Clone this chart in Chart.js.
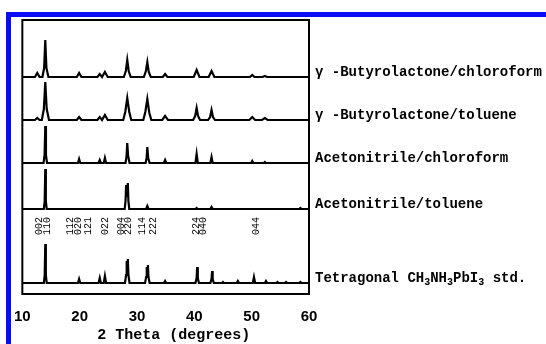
<!DOCTYPE html>
<html>
<head>
<meta charset="utf-8">
<script src="https://cdn.jsdelivr.net/npm/chart.js@4.4.1/dist/chart.umd.min.js"></script>
<style>
  body { margin: 0; background: #fff; }
  #wrap { position: relative; width: 546px; height: 344px; }
  #edge { position: absolute; left: 6px; top: 12px; right: 0; bottom: 0;
          border-top: 5px solid #0a0af5; border-left: 5px solid #0a0af5; }
</style>
</head>
<body>
<div id="wrap">
  <div id="edge"></div>
  <canvas id="xrd"></canvas>
</div>
<script>
// XRD patterns, [2theta (deg), intensity (a.u.)], stacked top to bottom
const gblChloroform = [
  [10, 0], [12.2, 0], [12.6, 4], [13.0, 0], [13.5, 0], [13.8, 9], [14.0, 37], [14.2, 9], [14.55, 0],
  [19.5, 0], [19.9, 4], [20.3, 0], [23.1, 0], [23.5, 3], [23.9, 0], [24.0, 0], [24.4, 5], [24.9, 0],
  [27.7, 0], [28.05, 6], [28.3, 17], [28.55, 6], [28.9, 0], [31.2, 0], [31.55, 6], [31.8, 15], [32.05, 5], [32.4, 0],
  [34.5, 0], [34.9, 3], [35.3, 0], [39.9, 0], [40.4, 7], [40.9, 0], [42.5, 0], [43.0, 6], [43.5, 0],
  [49.7, 0], [50.1, 2], [50.5, 0], [51.9, 0], [52.3, 1], [52.7, 0], [60, 0]
];
const gblToluene = [
  [10, 0], [12.2, 0], [12.6, 2], [13.0, 0], [13.4, 0], [13.75, 11], [14.0, 38], [14.25, 11], [14.65, 0],
  [19.5, 0], [19.9, 3], [20.3, 0], [23.1, 0], [23.5, 3], [23.9, 0], [24.0, 0], [24.4, 5], [24.9, 0],
  [27.6, 0], [27.95, 8], [28.3, 22], [28.65, 8], [29.0, 0], [31.1, 0], [31.45, 8], [31.8, 21], [32.15, 7], [32.5, 0],
  [34.4, 0], [34.9, 4], [35.4, 0], [39.8, 0], [40.15, 4], [40.4, 12], [40.65, 4], [41.0, 0],
  [42.4, 0], [42.75, 3], [43.0, 10], [43.25, 3], [43.6, 0],
  [49.6, 0], [50.1, 3], [50.6, 0], [51.8, 0], [52.3, 2], [52.8, 0], [60, 0]
];
const acnChloroform = [
  [10, 0], [13.7, 0], [13.88, 8], [14.0, 37], [14.12, 8], [14.3, 0],
  [19.7, 0], [19.9, 4], [20.1, 0], [23.3, 0], [23.5, 3], [23.7, 0], [24.2, 0], [24.4, 5], [24.6, 0],
  [28.0, 0], [28.18, 7], [28.3, 20], [28.45, 7], [28.7, 0], [31.5, 0], [31.68, 5], [31.8, 16], [31.95, 5], [32.2, 0],
  [34.7, 0], [34.9, 3], [35.1, 0], [40.2, 0], [40.4, 9], [40.6, 0], [42.8, 0], [43.0, 6], [43.2, 0],
  [49.9, 0], [50.1, 2], [50.3, 0], [52.1, 0], [52.3, 1], [52.5, 0], [60, 0]
];
const acnToluene = [
  [10, 0], [13.75, 0], [13.9, 8], [14.0, 40], [14.1, 8], [14.25, 0],
  [27.85, 0], [28.0, 8], [28.1, 24], [28.25, 12], [28.4, 26], [28.5, 8], [28.65, 0],
  [31.6, 0], [31.8, 3], [32.0, 0], [40.2, 0], [40.4, 1], [40.6, 0], [42.8, 0], [43.0, 2], [43.2, 0],
  [58.3, 0], [58.5, 1], [58.7, 0], [60, 0]
];
const tetragonalStd = [
  [10, 0], [13.75, 0], [13.9, 8], [14.0, 39], [14.1, 8], [14.25, 0],
  [19.7, 0], [19.9, 4], [20.1, 0], [23.3, 0], [23.5, 5], [23.7, 0], [24.2, 0], [24.4, 7], [24.6, 0],
  [27.9, 0], [28.1, 8], [28.2, 22], [28.3, 14], [28.4, 24], [28.5, 8], [28.7, 0],
  [31.4, 0], [31.6, 6], [31.7, 16], [31.8, 10], [31.9, 18], [32.0, 6], [32.2, 0],
  [34.7, 0], [34.9, 2], [35.1, 0], [40.2, 0], [40.4, 5], [40.5, 16], [40.6, 5], [40.8, 0],
  [42.8, 0], [43.0, 4], [43.1, 12], [43.2, 4], [43.4, 0],
  [44.8, 0], [45.0, 1], [45.2, 0], [47.4, 0], [47.6, 2], [47.8, 0], [50.2, 0], [50.4, 6], [50.6, 0],
  [52.3, 0], [52.5, 2], [52.7, 0], [54.3, 0], [54.5, 1], [54.7, 0], [55.8, 0], [56.0, 1], [56.2, 0],
  [58.3, 0], [58.5, 1], [58.7, 0], [60, 0]
];

const patterns = [gblChloroform, gblToluene, acnChloroform, acnToluene, tetragonalStd];
const offsets = [217, 174, 131, 85, 11];
const sampleNames = [
  'γ -Butyrolactone/chloroform',
  'γ -Butyrolactone/toluene',
  'Acetonitrile/chloroform',
  'Acetonitrile/toluene',
  'Tetragonal CH3NH3PbI3 std.'
];
const xTitle = '2 Theta (degrees)';

// reflections of the tetragonal reference, label and 2theta position
const hklLabels = ['002', '110', '112', '020', '121', '022', '004', '220', '114', '222', '224', '040', '044'];
const hklTheta = [12.95, 14.3, 18.3, 19.7, 21.5, 24.4, 27.3, 28.5, 31.0, 32.9, 40.3, 41.6, 50.8];

const datasets = patterns.map((pts, k) => ({
  label: sampleNames[k],
  data: pts.map(([t, i]) => ({ x: t, y: i + offsets[k] })),
  borderColor: '#000',
  borderWidth: 2.2,
  pointRadius: 0,
  tension: 0
}));

// frame, hkl marks, sample names and axis title
const decorations = {
  id: 'decorations',
  afterDatasetsDraw(chart) {
    const { ctx, chartArea: a, scales: { x, y } } = chart;
    ctx.save();
    ctx.strokeStyle = '#000';
    ctx.lineWidth = 2;
    ctx.strokeRect(a.left, a.top, a.right - a.left, a.bottom - a.top);

    ctx.fillStyle = '#000';
    ctx.font = '10px "Liberation Mono", monospace';
    ctx.textAlign = 'center';
    ctx.textBaseline = 'middle';
    hklLabels.forEach((lab, i) => {
      ctx.save();
      ctx.translate(x.getPixelForValue(hklTheta[i]), 226);
      ctx.rotate(-Math.PI / 2);
      ctx.fillText(lab, 0, 0);
      ctx.restore();
    });

    // axis title sits a bit right of the plot centre
    ctx.font = 'bold 15px "Liberation Mono", monospace';
    ctx.fillText(xTitle, (a.left + a.right) / 2 + 8, 335);

    ctx.textAlign = 'left';
    const big = 'bold 14px "Liberation Mono", monospace';
    const small = 'bold 10px "Liberation Mono", monospace';
    sampleNames.forEach((name, k) => {
      const ty = y.getPixelForValue(offsets[k]) - 5;
      let tx = a.right + 6;
      // subscripts in the formula
      const parts = name.match(/CH3NH3PbI3/)
        ? [['Tetragonal CH', 0], ['3', 1], ['NH', 0], ['3', 1], ['PbI', 0], ['3', 1], [' std.', 0]]
        : [[name, 0]];
      parts.forEach(([s, sub]) => {
        ctx.font = sub ? small : big;
        ctx.fillText(s, tx, sub ? ty + 4 : ty);
        tx += ctx.measureText(s).width;
      });
    });
    ctx.restore();
  }
};

new Chart(document.getElementById('xrd'), {
  type: 'line',
  data: { datasets },
  options: {
    responsive: true,
    maintainAspectRatio: false,
    animation: false,
    layout: { padding: { left: 21, top: 20, right: 237, bottom: 0 } },
    plugins: { legend: { display: false }, tooltip: { enabled: false } },
    scales: {
      x: {
        type: 'linear',
        min: 10,
        max: 60,
        grid: { display: false, drawTicks: false },
        border: { display: false },
        ticks: {
          stepSize: 10,
          padding: 14,
          color: '#000',
          font: { family: '"Liberation Sans", Arial, sans-serif', size: 15, weight: 'bold' }
        },
        afterFit(scale) { scale.height = 50; }
      },
      y: { display: false, min: 0, max: 274 }
    }
  },
  plugins: [decorations]
});
</script>
</body>
</html>
